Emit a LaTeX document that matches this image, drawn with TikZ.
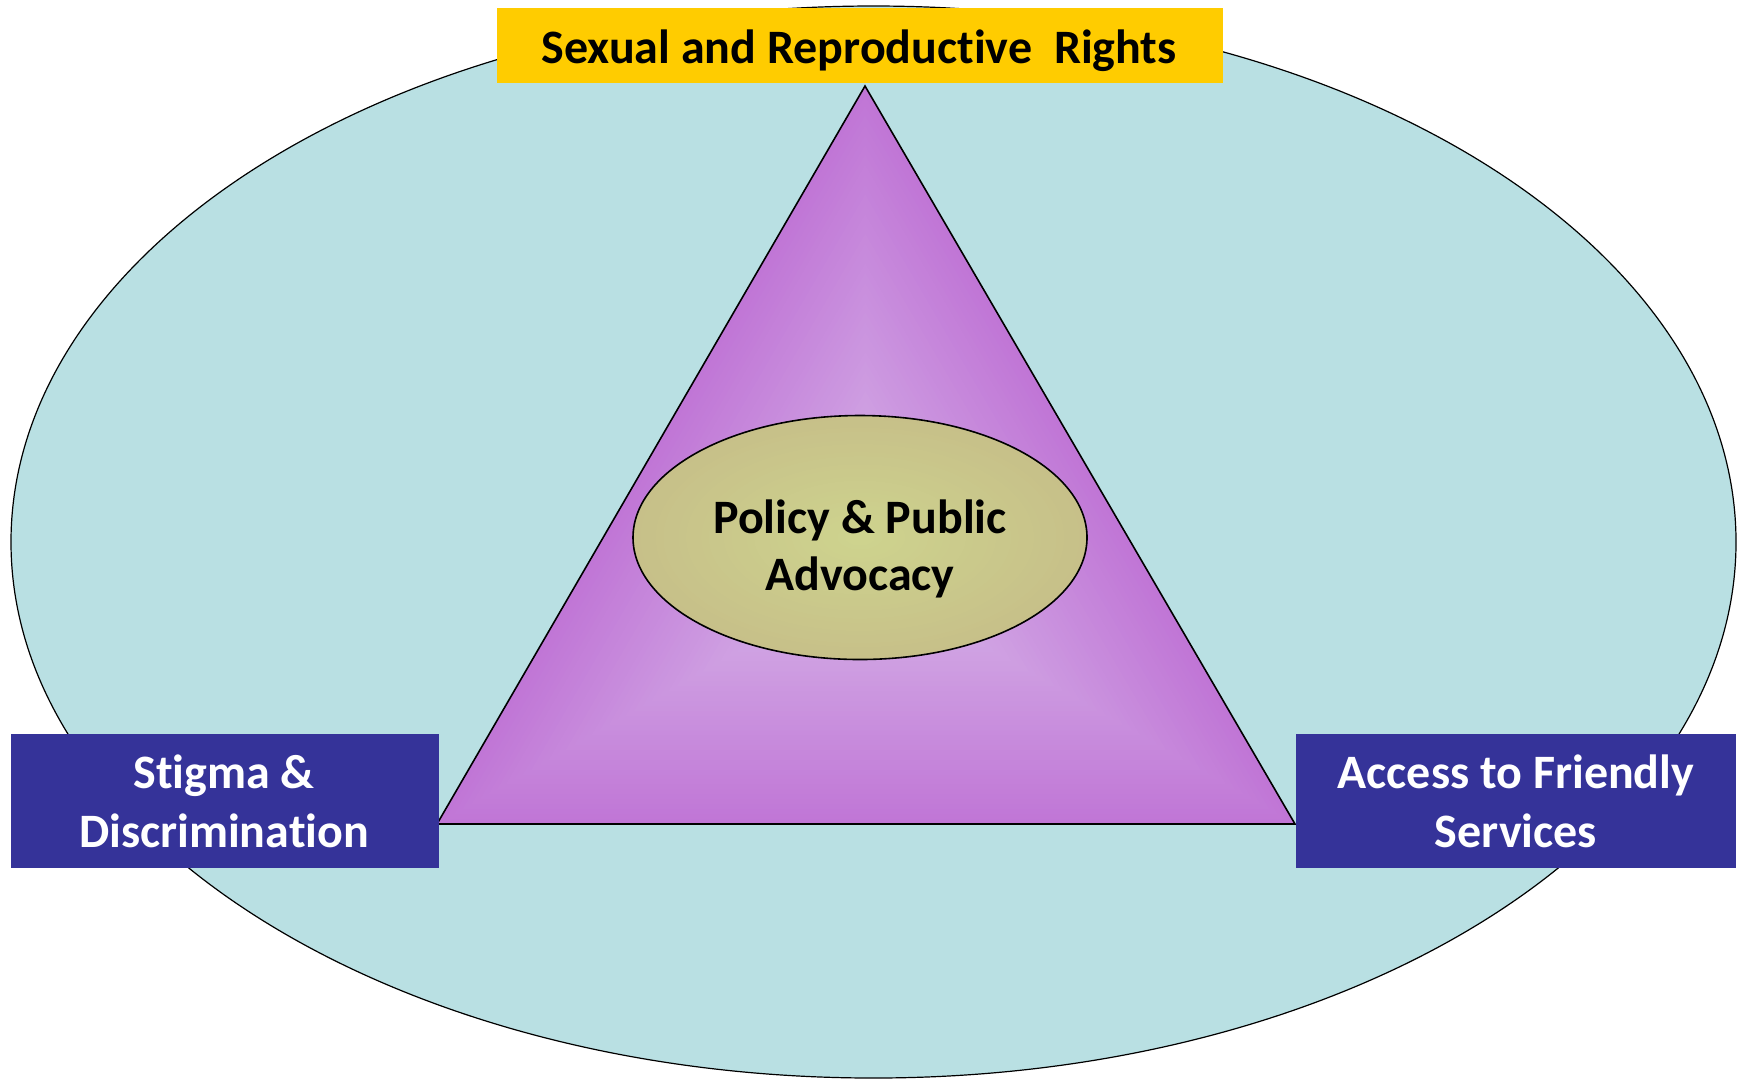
\documentclass[tikz,border=0pt]{standalone}
\usepackage{fontspec}
\setmainfont{Carlito}[Ligatures={NoCommon,NoRare,NoContextual}]
\usetikzlibrary{shapes.geometric,calc}
\definecolor{bgteal}{RGB}{185,224,227}
\definecolor{boxblue}{RGB}{53,51,153}
\definecolor{boxyellow}{RGB}{255,204,0}
\definecolor{purpout}{RGB}{192,118,214}
\definecolor{purpin}{RGB}{214,180,232}
\definecolor{olivein}{RGB}{206,212,142}
\definecolor{oliveout}{RGB}{199,192,137}
\tikzset{
  lbl/.style={font=\bfseries\fontsize{24}{29}\selectfont, anchor=base, inner sep=0pt},
  boxshape/.style={inner sep=0pt, minimum height=67pt},
}
\begin{document}
\begin{tikzpicture}[x=0.5pt,y=-0.5pt]
\useasboundingbox (0,0) rectangle (1743,1078);
% outer ellipse
\node (outer) [ellipse, draw=black, line width=0.6pt, fill=bgteal, minimum width=862.5pt, minimum height=536pt, inner sep=0pt] at (873.5,542) {};
% triangle with path gradient
\coordinate (apex) at (865,86);
\coordinate (bl) at (437,824);
\coordinate (br) at (1295,824);
\coordinate (cen) at (865.7,578);
\foreach \i in {0,...,50} {
  \pgfmathsetmacro\f{1-\i/50}
  \pgfmathsetmacro\p{\i*2}
  \fill[purpin!\p!purpout] ($(cen)!\f!(apex)$) -- ($(cen)!\f!(bl)$) -- ($(cen)!\f!(br)$) -- cycle;
}
\draw[line width=0.8pt, line join=miter] (apex) -- (bl) -- (br) -- cycle;
% inner ellipse with path gradient
\foreach \i in {0,...,30} {
  \pgfmathsetmacro\f{1-\i/30}
  \pgfmathsetmacro\p{\i*100/30}
  \fill[olivein!\p!oliveout] (860,537.5) ellipse [x radius=227*\f, y radius=122*\f];
}
\node (inner) [ellipse, draw=black, line width=0.8pt, minimum width=227pt, minimum height=122pt, inner sep=0pt] at (860,537.5) {};
\node (innerA) [lbl] at (860,533) {Policy \& Public};
\node (innerB) [lbl] at (860,590) {Advocacy};
% boxes
\node (top) [fill=boxyellow, inner sep=0pt, minimum width=363pt, minimum height=37.5pt] at (860,45.5) {};
\node (topt) [lbl] at (859,63) {Sexual and Reproduct\kern0pt ive\ \ Rights};
\node (left) [boxshape, fill=boxblue, minimum width=214pt] at (225,801) {};
\node (leftA) [lbl, text=white] at (224,788) {Stigma \&};
\node (leftB) [lbl, text=white] at (224,847) {Discriminat\kern0pt ion};
\node (right) [boxshape, fill=boxblue, minimum width=220pt] at (1516,801) {};
\node (rightA) [lbl, text=white] at (1516,788) {Access to Friendly};
\node (rightB) [lbl, text=white] at (1516,847) {Services};
\end{tikzpicture}
\end{document}
